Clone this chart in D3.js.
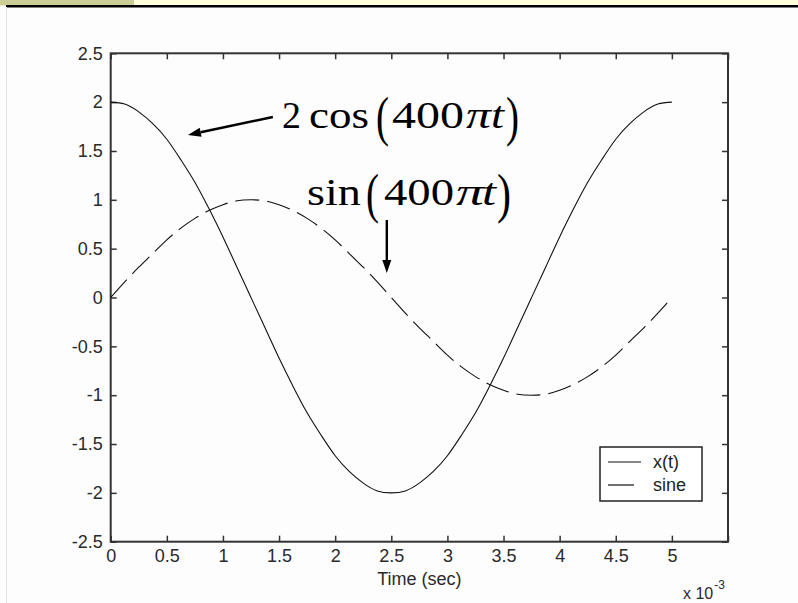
<!DOCTYPE html>
<html><head><meta charset="utf-8">
<script src="https://cdn.jsdelivr.net/npm/d3@7/dist/d3.min.js"></script>
<style>
body{margin:0;background:#fdfdfd;}
svg{display:block;}
</style></head>
<body>
<svg id="chart" width="798" height="603"></svg>
<script>
// ---- data ----
const timeMs = [0,0.125,0.25,0.375,0.5,0.625,0.75,0.875,1,1.125,1.25,1.375,1.5,1.625,1.75,1.875,2,2.125,2.25,2.375,2.5,2.625,2.75,2.875,3,3.125,3.25,3.375,3.5,3.625,3.75,3.875,4,4.125,4.25,4.375,4.5,4.625,4.75,4.875,5];
const xtValues = [2,1.98,1.9,1.78,1.62,1.41,1.18,0.91,0.62,0.31,0,-0.31,-0.62,-0.91,-1.18,-1.41,-1.62,-1.78,-1.9,-1.98,-2,-1.98,-1.9,-1.78,-1.62,-1.41,-1.18,-0.91,-0.62,-0.31,0,0.31,0.62,0.91,1.18,1.41,1.62,1.78,1.9,1.98,2];
const sineValues = [0,0.16,0.31,0.45,0.59,0.71,0.81,0.89,0.95,0.99,1,0.99,0.95,0.89,0.81,0.71,0.59,0.45,0.31,0.16,0,-0.16,-0.31,-0.45,-0.59,-0.71,-0.81,-0.89,-0.95,-0.99,-1,-0.99,-0.95,-0.89,-0.81,-0.71,-0.59,-0.45,-0.31,-0.16,0];
const seriesNames = ["x(t)","sine"];
const xTicks = [0,0.5,1,1.5,2,2.5,3,3.5,4,4.5,5,5.5];
const xTickLabels = ["0","0.5","1","1.5","2","2.5","3","3.5","4","4.5","5",""];
const yTicks = [-2.5,-2,-1.5,-1,-0.5,0,0.5,1,1.5,2,2.5];
const yTickLabels = ["-2.5","-2","-1.5","-1","-0.5","0","0.5","1","1.5","2","2.5"];
const xAxisTitle = "Time (sec)";
// annotation arrows in data units: [fromT, fromY, toT, toY]
const arrowCos = [1.445, 1.848, 0.688, 1.664];
const arrowSin = [2.46, 0.793, 2.46, 0.251];

// ---- drawing ----
const svg = d3.select("#chart");
const W = 798, H = 603;

// slide decoration
svg.append("rect").attr("x",0).attr("y",0).attr("width",W).attr("height",H).attr("fill","#fdfdfd");
svg.append("rect").attr("x",0).attr("y",0).attr("width",W).attr("height",5.5).attr("fill","#ffffdc");
svg.append("rect").attr("x",0).attr("y",0).attr("width",134).attr("height",5.5).attr("fill","#cccc96");
svg.append("rect").attr("x",6).attr("y",5).attr("width",W-6).attr("height",2.5).attr("fill","#000");
svg.append("line").attr("x1",6.5).attr("x2",6.5).attr("y1",7).attr("y2",H).attr("stroke","#e6e6e6").attr("stroke-width",1);

const x = d3.scaleLinear().domain([0,5.5]).range([110.7,728]);
const y = d3.scaleLinear().domain([-2.5,2.5]).range([541.7,53.3]);

const axisColor = "#333";
const fontSans = "'Liberation Sans', Arial, sans-serif";

function styleAxis(g){
  g.select(".domain").remove();
  g.selectAll(".tick line").attr("stroke",axisColor).attr("stroke-width",1.5);
  g.selectAll(".tick text").attr("fill","#2a2a2a").attr("font-family",fontSans).attr("font-size",18);
}

// bottom axis
svg.append("g").attr("transform",`translate(0,${y(-2.5)})`)
  .call(d3.axisBottom(x).tickValues(xTicks).tickSize(-6).tickPadding(8)
        .tickFormat((d,i)=>xTickLabels[i]))
  .call(styleAxis);
// top axis
svg.append("g").attr("transform",`translate(0,${y(2.5)})`)
  .call(d3.axisTop(x).tickValues(xTicks).tickSize(-6).tickFormat(""))
  .call(styleAxis);
// left axis
svg.append("g").attr("transform",`translate(${x(0)},0)`)
  .call(d3.axisLeft(y).tickValues(yTicks).tickSize(-6).tickPadding(8)
        .tickFormat((d,i)=>yTickLabels[i]))
  .call(styleAxis);
// right axis
svg.append("g").attr("transform",`translate(${x(5.5)},0)`)
  .call(d3.axisRight(y).tickValues(yTicks).tickSize(-6).tickFormat(""))
  .call(styleAxis);

// frame
svg.append("rect").attr("x",x(0)).attr("y",y(2.5))
  .attr("width",x(5.5)-x(0)).attr("height",y(-2.5)-y(2.5))
  .attr("fill","none").attr("stroke",axisColor).attr("stroke-width",2);

// series
const line = d3.line().x((d,i)=>x(timeMs[i])).y(d=>y(d)).curve(d3.curveNatural);
svg.append("path").attr("d",line(xtValues)).attr("fill","none")
  .attr("stroke","#111").attr("stroke-width",1.1);
svg.append("path").attr("d",line(sineValues)).attr("fill","none")
  .attr("stroke","#111").attr("stroke-width",1.1).attr("stroke-dasharray","24,8");

// axis title
svg.append("text").attr("x",(x(0)+x(5.5))/2).attr("y",585).attr("text-anchor","middle")
  .attr("font-family",fontSans).attr("font-size",18).attr("fill","#2a2a2a").text(xAxisTitle);
// exponent
const ex = svg.append("text").attr("x",683).attr("y",599)
  .attr("font-family",fontSans).attr("font-size",16).attr("fill","#2a2a2a");
ex.append("tspan").text("x 10");
ex.append("tspan").attr("font-size",12).attr("dy",-10).attr("dx",1).text("-3");

// legend
const lg = svg.append("g");
lg.append("rect").attr("x",600).attr("y",447).attr("width",102).attr("height",54)
  .attr("fill","#fff").attr("stroke","#222").attr("stroke-width",1.5);
lg.append("line").attr("x1",608).attr("x2",641).attr("y1",462).attr("y2",462)
  .attr("stroke","#111").attr("stroke-width",1.2);
lg.append("line").attr("x1",608).attr("x2",641).attr("y1",485).attr("y2",485)
  .attr("stroke","#111").attr("stroke-width",1.2).attr("stroke-dasharray","26,8");
lg.selectAll("text.lab").data(seriesNames).join("text").attr("class","lab")
  .attr("x",653).attr("y",(d,i)=>468+i*23)
  .attr("font-family",fontSans).attr("font-size",18).attr("fill","#222").text(d=>d);

// annotations (equation labels)
const fontSerif = "'Liberation Serif', 'Times New Roman', serif";
function eq(pieces, baseline){
  pieces.forEach(p=>{
    const big = p.t==="(" || p.t===")";
    svg.append("text")
      .attr("x",p.x0-1).attr("y", big ? baseline+7 : baseline)
      .attr("font-family",fontSerif)
      .attr("font-size", big ? 54 : 37)
      .attr("font-style", p.it ? "italic" : "normal")
      .attr("textLength", p.x1-p.x0+2).attr("lengthAdjust","spacingAndGlyphs")
      .attr("fill","#000").text(p.t);
  });
}
eq([{t:"2",x0:283,x1:300},{t:"cos",x0:310,x1:368},{t:"(",x0:377,x1:388},
    {t:"400",x0:393,x1:463},{t:"π",x0:467,x1:490,it:true},{t:"t",x0:492,x1:503,it:true},
    {t:")",x0:507,x1:518}], 128);
eq([{t:"sin",x0:308,x1:360},{t:"(",x0:367,x1:378},
    {t:"400",x0:385,x1:453},{t:"π",x0:457,x1:483,it:true},{t:"t",x0:483,x1:495,it:true},
    {t:")",x0:498,x1:510}], 205);

// arrows
function arrow(a){
  const x1=x(a[0]), y1=y(a[1]), x2=x(a[2]), y2=y(a[3]);
  const ang = Math.atan2(y2-y1,x2-x1);
  const L=13, Wd=4.5;
  const bx = x2 - L*Math.cos(ang), by = y2 - L*Math.sin(ang);
  svg.append("line").attr("x1",x1).attr("y1",y1).attr("x2",bx).attr("y2",by)
    .attr("stroke","#000").attr("stroke-width",2.4);
  const px = -Math.sin(ang), py = Math.cos(ang);
  svg.append("path").attr("d",`M${x2},${y2}L${bx+px*Wd},${by+py*Wd}L${bx-px*Wd},${by-py*Wd}Z`)
    .attr("fill","#000");
}
arrow(arrowCos);
arrow(arrowSin);
</script>
</body></html>
